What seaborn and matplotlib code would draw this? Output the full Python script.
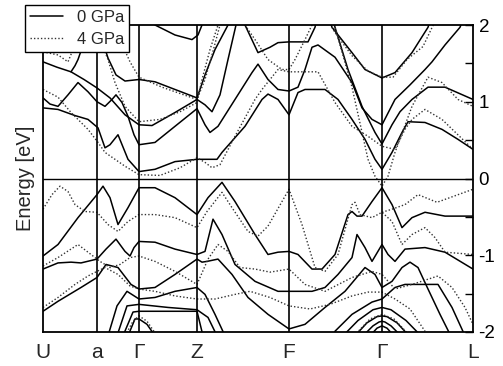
import numpy as np
import matplotlib
matplotlib.use("Agg")
import matplotlib.pyplot as plt
import seaborn as sns
from matplotlib.lines import Line2D

# ---------------- data ----------------
kpath_pos = [0, 54, 96, 154, 246, 339, 430]
kpath_labels = ["U", "a", "Γ", "Z", "F", "Γ", "L"]
series_names = ["0 GPa", "4 GPa"]
ytick_vals = [-2, -1, 0, 1, 2]

# 0 GPa bands (solid)
sc_a_k = [0, 14, 28, 41, 54, 67, 82, 96, 109, 132, 154, 162, 169, 177, 185, 193, 197]
sc_a_e = [1.52, 1.45, 1.39, 1.29, 1.18, 1.05, 0.83, 0.70, 0.69, 0.86, 1.03, 0.96, 0.87, 1.09, 1.55, 2.00, 2.20]
sc_e_k = [28, 32, 35, 39, 42, 45, 47]
sc_e_e = [1.39, 1.47, 1.55, 1.70, 1.84, 2.00, 2.13]
sc_b_k = [54, 55, 59, 65, 73, 82, 96, 112, 132, 154, 162, 172, 185, 189]
sc_b_e = [2.15, 2.00, 1.81, 1.57, 1.35, 1.27, 1.29, 1.26, 1.16, 1.05, 1.35, 1.68, 2.00, 2.13]
sc_c_k = [0, 7, 15, 25, 35, 45, 54, 62, 69, 73, 79, 85, 91, 96, 112, 132, 154,
          162, 167, 175, 192, 209, 215, 225, 235, 246,
          255, 262, 269, 275, 292, 309, 319, 329, 339,
          352, 367, 382, 389, 402, 417, 422]
sc_c_e = [1.05, 0.97, 0.94, 1.09, 1.25, 1.13, 1.00, 0.94, 1.03, 1.09, 0.99, 0.81, 0.57, 0.44, 0.47, 0.68, 0.91,
          0.70, 0.60, 0.68, 1.03, 1.38, 1.49, 1.29, 1.16, 1.14,
          1.19, 1.42, 1.71, 1.74, 1.58, 1.25, 0.92, 0.77, 0.70,
          1.03, 1.22, 1.42, 1.52, 1.74, 1.97, 2.13]
sc_d_k = [0, 15, 32, 45, 55, 62, 67, 75, 85, 96,
          112, 132, 154, 174, 179, 202, 219, 225, 235, 246,
          255, 262, 282, 295, 309, 322, 332, 339,
          349, 359, 365, 382, 399, 415, 430]
sc_d_e = [0.92, 0.90, 0.82, 0.77, 0.66, 0.40, 0.44, 0.57, 0.25, 0.09,
          0.12, 0.22, 0.25, 0.25, 0.34, 0.68, 1.03, 1.10, 1.03, 0.83,
          1.12, 1.16, 1.16, 1.03, 0.77, 0.51, 0.25, 0.12,
          0.34, 0.60, 0.74, 0.73, 0.64, 0.51, 0.38]
sc_f_k = [290, 292, 305, 319, 332, 339, 349, 357, 369, 385, 402, 430]
sc_f_e = [2.10, 1.97, 1.42, 0.94, 0.60, 0.45, 0.70, 0.87, 1.03, 1.19, 1.19, 1.03]
sc_g_k = [285, 289, 309, 322, 339, 352, 369, 385, 389]
sc_g_e = [2.13, 1.97, 1.64, 1.42, 1.31, 1.38, 1.64, 1.97, 2.13]
sc_h_k = [197, 202, 215, 227, 235, 246, 265, 272, 275]
sc_h_e = [2.13, 2.00, 1.64, 1.71, 1.77, 1.78, 1.78, 1.97, 2.13]
sc_i_k = [107, 112, 132, 149, 155, 159, 161]
sc_i_e = [2.13, 2.00, 1.87, 1.81, 1.87, 2.00, 2.13]

sv1_k = [0, 15, 35, 54, 60, 67, 75, 85, 96,
         112, 132, 154, 165, 179, 192, 212, 225, 235, 246,
         255, 269, 279, 292, 305, 309, 314, 319, 329, 339,
         349, 359, 369, 382, 402, 430]
sv1_e = [-1.01, -0.86, -0.51, -0.21, -0.10, -0.25, -0.60, -0.38, -0.12,
         -0.12, -0.25, -0.47, -0.25, -0.05, -0.30, -0.73, -0.99, -0.96, -0.95,
         -0.99, -1.18, -1.18, -0.99, -0.47, -0.43, -0.49, -0.49, -0.30, -0.12,
         -0.34, -0.64, -0.51, -0.44, -0.49, -0.49]
sv2_k = [0, 15, 28, 38, 54, 63, 73, 82, 87, 91, 96,
         112, 132, 154, 162, 170, 179, 192, 212, 235, 246,
         269, 282, 295, 309, 314, 322, 329, 339, 345, 352, 362, 382, 402, 430]
sv2_e = [-1.18, -1.10, -1.09, -1.10, -1.05, -0.92, -0.79, -0.95, -1.01, -0.90, -0.82,
         -0.83, -0.92, -0.99, -0.95, -0.53, -0.73, -1.12, -1.34, -1.47, -1.47,
         -1.47, -1.42, -1.25, -1.03, -0.73, -0.90, -1.08, -0.86, -0.99, -1.08, -0.92, -0.90, -0.96, -1.18]
sv3_k = [0, 15, 38, 54, 63, 75, 88, 96,
         112, 132, 154, 159, 164, 175, 189, 205, 225, 246,
         262, 282, 302, 322, 332, 339, 349, 359, 367, 375, 385, 397, 407]
sv3_e = [-1.73, -1.60, -1.42, -1.29, -1.12, -1.16, -1.38, -1.44,
         -1.42, -1.25, -1.05, -1.09, -1.08, -1.05, -1.25, -1.55, -1.77, -1.96,
         -1.90, -1.68, -1.47, -1.16, -1.25, -1.42, -1.34, -1.16, -1.09, -1.16, -1.44, -1.77, -2.03]
sv4_k = [290, 292, 309, 329, 339, 352, 362, 395, 409, 422]
sv4_e = [-2.10, -1.99, -1.77, -1.61, -1.57, -1.42, -1.38, -1.38, -1.68, -2.05]
sv5_k = [65, 74, 84, 96, 112, 132, 154, 162, 172, 182]
sv5_e = [-2.05, -1.66, -1.47, -1.57, -1.55, -1.47, -1.42, -1.51, -1.77, -2.05]
sv6_k = [74, 84, 96, 125, 154, 165, 174]
sv6_e = [-2.05, -1.66, -1.64, -1.68, -1.71, -1.81, -2.05]
sv7_k = [80, 90, 96, 127, 154, 160]
sv7_e = [-2.05, -1.74, -1.73, -1.73, -1.73, -2.05]
sv8_k = [85, 92, 96, 104, 112]
sv8_e = [-2.05, -1.83, -1.83, -1.90, -2.05]
ar1_k = [300, 315, 330, 339, 348, 363, 378]
ar1_e = [-2.05, -1.85, -1.71, -1.68, -1.71, -1.85, -2.05]
ar2_k = [312, 324, 334, 339, 344, 354, 366]
ar2_e = [-2.05, -1.88, -1.80, -1.79, -1.80, -1.88, -2.05]
ar3_k = [320, 330, 336, 339, 342, 348, 358]
ar3_e = [-2.05, -1.92, -1.87, -1.86, -1.87, -1.92, -2.05]
ar4_k = [327, 334, 339, 344, 351]
ar4_e = [-2.05, -1.95, -1.92, -1.95, -2.05]

# 4 GPa bands (dotted)
dv1_k = [0, 9, 17, 25, 32, 42, 54, 65, 75, 85, 96,
         112, 132, 154, 164, 179, 189, 205, 215, 225, 246,
         259, 272, 282, 295, 309, 312, 317, 329, 339,
         349, 359, 369, 382, 392, 402, 430]
dv1_e = [-0.40, -0.21, -0.10, -0.17, -0.34, -0.43, -0.44, -0.60, -0.69, -0.56, -0.47,
         -0.47, -0.51, -0.64, -0.43, -0.18, -0.38, -0.69, -0.75, -0.62, -0.14,
         -0.60, -1.16, -1.21, -0.99, -0.34, -0.31, -0.47, -0.51, -0.44,
         -0.56, -0.86, -0.73, -0.64, -0.77, -0.96, -0.99]
dv2_k = [339, 349, 362, 375, 394, 430]
dv2_e = [-0.44, -0.40, -0.34, -0.21, -0.31, -0.14]
dv3_k = [0, 15, 35, 48, 57, 67, 77, 87, 96,
         112, 132, 154, 165, 175, 185, 197, 212, 227, 246,
         262, 282, 309, 329, 339, 352, 369, 395, 409, 422, 430]
dv3_e = [-1.14, -1.03, -0.86, -0.99, -1.08, -1.16, -1.12, -1.03, -1.01,
         -1.08, -1.21, -1.38, -1.05, -0.86, -0.95, -1.16, -1.18, -1.22, -1.18,
         -1.38, -1.47, -1.29, -1.21, -1.25, -1.44, -1.38, -1.27, -1.42, -1.68, -1.90]
dv4_k = [0, 15, 32, 45, 54, 62, 75, 87, 96,
         112, 132, 154, 172, 192, 207, 227, 246,
         267, 287, 309, 325, 339, 352, 367, 382]
dv4_e = [-1.68, -1.55, -1.38, -1.27, -1.21, -1.16, -1.25, -1.40, -1.44,
         -1.47, -1.53, -1.57, -1.57, -1.51, -1.47, -1.55, -1.66,
         -1.70, -1.64, -1.53, -1.48, -1.48, -1.57, -1.70, -1.99]
dar1_k = [311, 327, 339, 351, 367]
dar1_e = [-2.05, -1.83, -1.77, -1.83, -2.05]
dar2_k = [82, 90, 96, 104, 114]
dar2_e = [-2.05, -1.86, -1.79, -1.86, -2.05]

dc1_k = [287, 292, 309, 325, 332, 339, 345, 352, 369, 385, 399, 415, 430]
dc1_e = [2.13, 1.97, 1.19, 0.25, 0.03, -0.10, 0.03, 0.34, 0.94, 1.32, 1.25, 1.03, 0.94]
dc4_k = [0, 15, 28, 45, 55, 62, 72, 82, 96,
         117, 137, 154, 162, 169, 177, 192, 212, 219, 235, 246,
         257, 275, 292, 309, 325, 339, 352, 362, 369, 382, 399, 430]
dc4_e = [1.16, 1.06, 0.86, 0.64, 0.47, 0.34, 0.25, 0.16, 0.05,
         0.04, 0.14, 0.27, 0.21, 0.14, 0.18, 0.55, 1.03, 1.16, 1.42, 1.39,
         1.39, 1.39, 0.99, 0.68, 0.55, 0.42, 0.38, 0.64, 0.77, 0.90, 0.77, 0.38]
dc3_k = [0, 15, 25, 30, 35, 39, 41]
dc3_e = [1.65, 1.61, 1.52, 1.68, 1.84, 2.00, 2.13]
dc5_k = [52, 57, 65, 72, 82, 96, 117, 137, 154, 159, 167, 175, 178]
dc5_e = [2.13, 1.81, 1.55, 1.25, 0.94, 0.74, 0.77, 0.87, 0.99, 1.29, 1.68, 2.00, 2.13]
dc6_k = [69, 77, 87, 96, 119, 154, 162, 169, 177, 180]
dc6_e = [2.13, 1.81, 1.52, 1.32, 1.19, 1.03, 1.29, 1.61, 2.00, 2.13]
dc7_k = [202, 212, 225, 239, 246, 252, 262, 269, 272]
dc7_e = [2.00, 1.81, 1.55, 1.42, 1.42, 1.55, 1.81, 2.00, 2.13]
dc8_k = [282, 292, 309, 325, 339, 350, 364, 380, 395]
dc8_e = [2.13, 1.90, 1.60, 1.40, 1.32, 1.32, 1.55, 1.72, 2.13]

bands_0gpa = [(sc_a_k, sc_a_e), (sc_e_k, sc_e_e), (sc_b_k, sc_b_e), (sc_c_k, sc_c_e),
              (sc_d_k, sc_d_e), (sc_f_k, sc_f_e), (sc_g_k, sc_g_e), (sc_h_k, sc_h_e),
              (sc_i_k, sc_i_e), (sv1_k, sv1_e), (sv2_k, sv2_e), (sv3_k, sv3_e),
              (sv4_k, sv4_e), (sv5_k, sv5_e), (sv6_k, sv6_e), (sv7_k, sv7_e),
              (sv8_k, sv8_e), (ar1_k, ar1_e), (ar2_k, ar2_e), (ar3_k, ar3_e), (ar4_k, ar4_e)]
bands_4gpa = [(dv1_k, dv1_e), (dv2_k, dv2_e), (dv3_k, dv3_e), (dv4_k, dv4_e),
              (dar1_k, dar1_e), (dar2_k, dar2_e), (dc1_k, dc1_e), (dc4_k, dc4_e),
              (dc3_k, dc3_e), (dc5_k, dc5_e), (dc6_k, dc6_e), (dc7_k, dc7_e), (dc8_k, dc8_e)]

# ---------------- plot ----------------
sns.set_theme(style="white")
plt.rcParams["font.family"] = ["Liberation Sans", "DejaVu Sans"]

W, H = 503, 366
fig = plt.figure(figsize=(W / 100, H / 100), dpi=100)
ax = fig.add_axes([43 / W, 1 - 332 / H, (473 - 43) / W, (332 - 25) / H])

for k, e in bands_0gpa:
    sns.lineplot(x=np.array(k, float), y=np.array(e, float), ax=ax, color="black",
                 lw=1.1, linestyle="-", sort=False, estimator=None, errorbar=None)
for k, e in bands_4gpa:
    sns.lineplot(x=np.array(k, float), y=np.array(e, float), ax=ax, color="#333333",
                 lw=1.0, linestyle=(0, (1, 1.5)), sort=False, estimator=None, errorbar=None)

for xp in kpath_pos[1:-1]:
    ax.axvline(xp, color="black", lw=1.2, zorder=3)
ax.axhline(0, color="black", lw=1.0, zorder=3)

ax.set_xlim(kpath_pos[0], kpath_pos[-1])
ax.set_ylim(-2, 2)
ax.set_xticks(kpath_pos)
ax.set_xticklabels(kpath_labels, fontsize=15)
ax.tick_params(axis="x", length=0, pad=8)

ax.yaxis.tick_right()
ax.set_yticks(ytick_vals)
ax.set_yticklabels([str(v) for v in ytick_vals], fontsize=13.5)
ax.set_yticks([-1.5, -0.5, 0.5, 1.5], minor=True)
ax.tick_params(axis="y", which="both", direction="in", length=6, width=1.0,
               right=True, left=False, pad=4, colors="black")
ax.yaxis.set_label_position("left")
ax.set_ylabel("Energy [eV]", fontsize=14.5, labelpad=6)

for sp in ax.spines.values():
    sp.set_visible(True)
    sp.set_color("black")
    sp.set_linewidth(1.3)

handles = [Line2D([], [], color="black", lw=1.1, linestyle="-"),
           Line2D([], [], color="#333333", lw=1.0, linestyle=(0, (1, 1.5)))]
leg = fig.legend(handles, series_names, loc="upper left",
                 bbox_to_anchor=(25 / W, 1 - 5 / H), fontsize=12,
                 frameon=True, fancybox=False, framealpha=1, edgecolor="black",
                 handlelength=2.0, handletextpad=0.8, borderpad=0.3,
                 labelspacing=0.4, borderaxespad=0)
leg.get_frame().set_linewidth(1.0)
leg.set_zorder(10)

fig.savefig("out.png", dpi=100)
